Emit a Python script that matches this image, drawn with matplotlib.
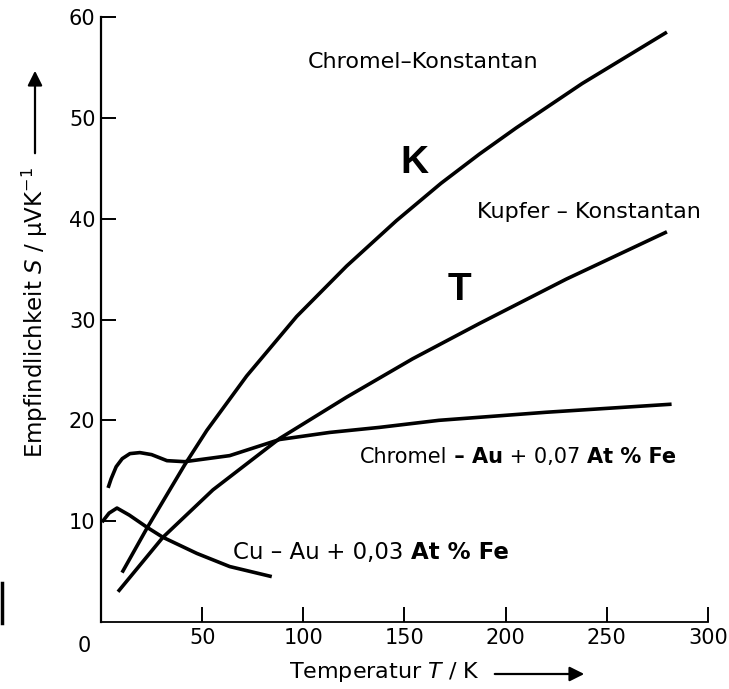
import matplotlib.pyplot as plt
from matplotlib.lines import Line2D

# Chromel-Konstantan (K)
k_temp = [10.4, 22.7, 41.4, 52.3, 72.0, 96.7, 121.4, 146.0, 168.0, 187.0, 205.2, 237.8, 279.7]
k_seebeck = [4.9, 9.3, 15.6, 19.0, 24.4, 30.3, 35.3, 39.8, 43.5, 46.4, 49.0, 53.4, 58.5]

# Kupfer-Konstantan (T)
t_temp = [8.4, 30.6, 55.3, 88.3, 121.4, 154.0, 187.0, 229.9, 279.7]
t_seebeck = [3.0, 8.4, 13.1, 18.2, 22.3, 26.1, 29.6, 34.0, 38.7]

# Chromel-Au + 0,07 At% Fe
cr_temp = [3.5, 5.0, 7.5, 10.5, 14.3, 19.2, 25.0, 32.6, 41.4, 63.6, 88.3, 113.0, 137.6, 167.0, 220.0, 282.0]
cr_seebeck = [13.3, 14.2, 15.4, 16.2, 16.7, 16.8, 16.6, 16.0, 15.9, 16.5, 18.1, 18.8, 19.3, 20.0, 20.8, 21.6]

# Cu-Au + 0,03 At% Fe
cu_temp = [0.5, 4.0, 7.9, 14.0, 22.7, 30.6, 47.4, 63.6, 84.4]
cu_seebeck = [9.9, 10.8, 11.3, 10.6, 9.4, 8.4, 6.8, 5.5, 4.5]

x_ticks = [50, 100, 150, 200, 250, 300]
y_ticks = [10, 20, 30, 40, 50, 60]

FONTSIZE = 15
LW = 2.6

fig = plt.figure(figsize=(7.29, 6.89), dpi=100)
ax = fig.add_axes([101 / 729, 1 - 622 / 689, 607 / 729, 605 / 689])

for xs, ys in [(k_temp, k_seebeck), (t_temp, t_seebeck),
               (cr_temp, cr_seebeck), (cu_temp, cu_seebeck)]:
    ax.plot(xs, ys, color='black', lw=LW, solid_capstyle='butt')

ax.set_xlim(0, 300)
ax.set_ylim(0, 60)
ax.spines['top'].set_visible(False)
ax.spines['right'].set_visible(False)
ax.spines['left'].set_linewidth(1.6)
ax.spines['bottom'].set_linewidth(1.3)
ax.set_xticks(x_ticks)
ax.set_yticks(y_ticks)
ax.tick_params(axis='both', direction='in', length=11, width=1.4,
               labelsize=FONTSIZE, pad=4)

# shared origin label
ax.annotate('0', xy=(0, 0), xytext=(-17, -24), textcoords='offset pixels',
            ha='center', va='center', fontsize=FONTSIZE)

# curve labels
ax.text(159.4, 55.5, 'Chromel\u2013Konstantan', ha='center', va='center', fontsize=16)
ax.text(241, 40.7, 'Kupfer \u2013 Konstantan', ha='center', va='center', fontsize=16)
ax.text(155, 45.5, 'K', ha='center', va='center', fontsize=28,
        fontweight='bold', family='Liberation Sans')
ax.text(177, 32.9, 'T', ha='center', va='center', fontsize=28,
        fontweight='bold', family='Liberation Sans')


def chain(x, y, pieces, size):
    prev = None
    for txt, weight in pieces:
        if prev is None:
            prev = ax.text(x, y, txt, fontsize=size, fontweight=weight,
                           ha='left', va='baseline')
        else:
            prev = ax.annotate(txt, xy=(1, 0), xycoords=prev, fontsize=size,
                               fontweight=weight, ha='left', va='bottom')


chain(127.8, 15.8, [('Chromel', 'normal'), (' \u2013 Au', 'bold'),
                    (' + 0,07 ', 'normal'), ('At % Fe', 'bold')], 15)
chain(65, 6.2, [('Cu \u2013 Au', 'normal'), (' + 0,03 ', 'normal'),
                ('At % Fe', 'bold')], 16.5)

# axis labels with arrows
fig.text(35 / 729, 1 - 313 / 689, 'Empfindlichkeit $S$ / \u00b5VK$^{-1}$',
         rotation=90, ha='center', va='center', fontsize=16.5)
ax.annotate('', xy=(35, 689 - 68), xycoords='figure pixels',
            xytext=(35, 689 - 156), textcoords='figure pixels',
            arrowprops=dict(arrowstyle='-|>', color='black', lw=1.6,
                            mutation_scale=22))
fig.text(384 / 729, 17 / 689, 'Temperatur $T$ / K', ha='center', va='center',
         fontsize=16)
ax.annotate('', xy=(587, 15), xycoords='figure pixels',
            xytext=(492, 15), textcoords='figure pixels',
            arrowprops=dict(arrowstyle='-|>', color='black', lw=1.6,
                            mutation_scale=22))

# scan artefact at the left edge
fig.add_artist(Line2D([1.5 / 729, 1.5 / 729], [1 - 623 / 689, 1 - 583 / 689],
                      color='black', lw=2.5))

fig.savefig('out.png', dpi=100)
